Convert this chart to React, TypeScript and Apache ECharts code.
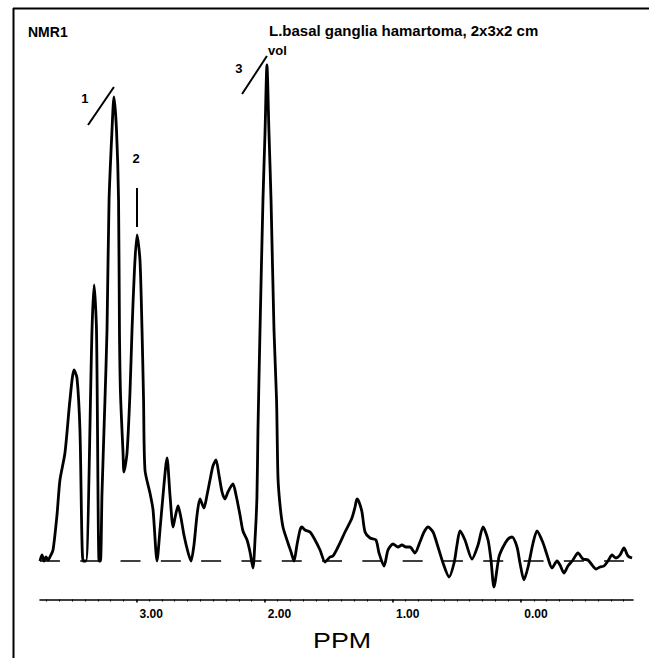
import React, { useEffect, useRef } from "react";
import * as echarts from "echarts";

// Chemical shift (ppm) and signal intensity (arbitrary units, baseline = 0)
const ppmValues = [
  3.751, 3.735, 3.719, 3.704, 3.688, 3.673, 3.649, 3.618, 3.595, 3.556,
  3.517, 3.485, 3.462, 3.439, 3.415, 3.392, 3.345, 3.329, 3.310, 3.290,
  3.279, 3.267, 3.244, 3.228, 3.212, 3.189, 3.174, 3.154, 3.138, 3.131,
  3.123, 3.103, 3.096, 3.072, 3.049, 3.033, 3.014, 2.994, 2.971, 2.955,
  2.943, 2.932, 2.893, 2.869, 2.838, 2.815, 2.791, 2.760, 2.737, 2.713,
  2.698, 2.674, 2.651, 2.628, 2.597, 2.573, 2.550, 2.526, 2.503, 2.472,
  2.448, 2.425, 2.402, 2.378, 2.355, 2.331, 2.308, 2.285, 2.246, 2.222,
  2.191, 2.168, 2.136, 2.113, 2.090, 2.074, 2.059, 2.051, 2.035, 2.012,
  1.996, 1.981, 1.965, 1.949, 1.926, 1.906, 1.895, 1.879, 1.856, 1.817,
  1.793, 1.770, 1.747, 1.723, 1.708, 1.684, 1.645, 1.606, 1.567, 1.528,
  1.489, 1.466, 1.427, 1.372, 1.318, 1.294, 1.279, 1.263, 1.240, 1.216,
  1.177, 1.131, 1.107, 1.068, 1.037, 0.998, 0.959, 0.928, 0.897, 0.866,
  0.827, 0.788, 0.756, 0.725, 0.686, 0.647, 0.608, 0.561, 0.522, 0.499,
  0.476, 0.437, 0.382, 0.335, 0.296, 0.257, 0.234, 0.211, 0.172, 0.140,
  0.101, 0.070, 0.031, 0.008, -0.023, -0.055, -0.094, -0.125, -0.172, -0.203,
  -0.242, -0.281, -0.304, -0.335, -0.366, -0.405, -0.444, -0.483, -0.522, -0.554,
  -0.585, -0.616, -0.647, -0.678, -0.710, -0.741, -0.772, -0.803, -0.834, -0.866,
];

const intensityValues = [
  0, 1.2, 0, 0.8, 0.2, 0.8, 2.2, 9.2, 16.2, 21.6,
  32.2, 38.2, 36.6, 26.2, 0, 0, 46.2, 55.2, 46.2, 0,
  0, 13.6, 32.2, 46.2, 72.2, 86.2, 92.8, 86.2, 72.2, 46.2,
  33.6, 21.6, 17.8, 21.6, 33.6, 46.2, 58.2, 65.2, 60.2, 46.2,
  32.2, 18.2, 13.6, 10.2, 0, 6.2, 13.2, 20.6, 13.2, 6.8,
  8.6, 11.0, 8.6, 5.2, 1.8, 0, 3.2, 9.2, 12.4, 10.6,
  13.2, 16.2, 19.0, 20.2, 17.2, 13.8, 12.4, 13.8, 15.4, 13.2,
  9.2, 6.0, 4.2, 1.8, -1.4, 4.2, 12.8, 26.2, 46.2, 72.2,
  85.6, 99.2, 85.6, 72.2, 46.2, 32.2, 16.8, 11.2, 6.8, 3.6,
  1.8, 0, 3.2, 6.2, 6.8, 6.2, 5.8, 4.2, 2.2, -0.2,
  0.8, 1.0, 2.8, 5.8, 8.6, 10.8, 12.4, 11.8, 9.8, 5.8,
  4.6, 4.2, 1.6, -1.0, 2.2, 3.4, 2.8, 3.2, 2.8, 2.8,
  1.6, 3.8, 5.8, 6.8, 5.8, 2.8, -0.4, -3.2, -0.4, 3.2,
  6.0, 4.2, 0.4, 3.2, 6.8, 4.2, 0.2, -5.2, 0.8, 2.8,
  4.4, 4.8, 2.8, -0.4, -3.8, -1.2, 3.6, 6.0, 3.6, 1.2,
  -1.4, 0, -0.8, -2.4, -1.0, 0.2, 1.6, 0.4, 0.2, -0.8,
  -1.6, -1.2, -1.0, 0, 1.2, 0.6, 1.2, 2.6, 1.0, 0.6,
];

// Axis extent (ppm) and ticks
const X_MIN = -0.8733;
const X_MAX = 3.7505;
const Y_MIN = -7.7;
const Y_MAX = 102.2;
const majorTicks = [0, 1, 2, 3];
const minorTicks = [
  -0.8, -0.7, -0.6, -0.5, -0.4, -0.3, -0.2, -0.1,
  0.1, 0.2, 0.3, 0.4, 0.5, 0.6, 0.7, 0.8, 0.9,
  1.1, 1.2, 1.3, 1.4, 1.5, 1.6, 1.7, 1.8, 1.9,
  2.1, 2.2, 2.3, 2.4, 2.5, 2.6, 2.7, 2.8, 2.9,
  3.1, 3.2, 3.3, 3.4, 3.5, 3.6, 3.7,
];

// Dashed zero baseline (ppm extent, intensity)
const baselinePpm = [3.751, -0.803];
const baselineIntensity = [0, 0];

// Peak annotations: label position and marker line (ppm, intensity)
const peakLabels = ["1", "2", "3"];
const peakLabelPos = [
  [3.4, 92.6],
  [3.002, 80.6],
  [2.199, 98.6],
];
const peakMarkStart = [
  [3.376, 87.2],
  [2.994, 66.8],
  [2.175, 93.4],
];
const peakMarkEnd = [
  [3.174, 94.8],
  [2.994, 74.6],
  [1.981, 101.0],
];

const titleLeft = "NMR1";
const titleMain = "L.basal ganglia hamartoma, 2x3x2 cm";
const titleSub = "vol";
const axisTitle = "PPM";

const FONT = "'Liberation Sans', Arial, Helvetica, sans-serif";

export default function App() {
  const ref = useRef<HTMLDivElement>(null);

  useEffect(() => {
    if (!ref.current) return;
    const chart = echarts.init(ref.current, undefined, { renderer: "svg" });

    const spectrum = ppmValues.map((p, i) => [p, intensityValues[i]]);
    const baseline = baselinePpm.map((p, i) => [p, baselineIntensity[i]]);

    const annotationLines = peakMarkStart.map((s, i) => [
      { coord: s },
      { coord: peakMarkEnd[i] },
    ]);

    const option: any = {
      animation: false,
      backgroundColor: "#fff",
      grid: {
        left: 40,
        right: 16,
        top: 50,
        bottom: 58.5,
        containLabel: false,
        outerBoundsMode: "none",
      },
      xAxis: [
        {
          type: "value",
          position: "bottom",
          gridIndex: 0,
          min: X_MIN,
          max: X_MAX,
          inverse: true,
          axisLine: { show: true, onZero: false, lineStyle: { color: "#000", width: 1.6 } },
          axisTick: {
            show: true,
            customValues: majorTicks,
            length: 3,
            lineStyle: { color: "#000", width: 1.6 },
          },
          axisLabel: {
            show: true,
            customValues: majorTicks,
            formatter: (v: number) => v.toFixed(2),
            color: "#000",
            fontFamily: FONT,
            fontWeight: "bold",
            fontSize: 12,
            margin: 8,
            padding: [0, 0, 0, 30],
          },
          splitLine: { show: false },
        },
        {
          type: "value",
          position: "bottom",
          gridIndex: 0,
          min: X_MIN,
          max: X_MAX,
          inverse: true,
          axisLine: { show: false, onZero: false },
          axisTick: {
            show: true,
            customValues: minorTicks,
            length: 2,
            lineStyle: { color: "#000", width: 1 },
          },
          axisLabel: { show: false },
          splitLine: { show: false },
        },
      ],
      yAxis: {
        type: "value",
        min: Y_MIN,
        max: Y_MAX,
        show: false,
        splitLine: { show: false },
      },
      series: [
        {
          type: "line",
          name: "baseline",
          xAxisIndex: 0,
          data: baseline,
          showSymbol: false,
          symbol: "none",
          silent: true,
          lineStyle: { color: "#000", width: 1.5, type: [20, 20.3] },
          z: 1,
        },
        {
          type: "line",
          name: "spectrum",
          xAxisIndex: 0,
          data: spectrum,
          smooth: 0.25,
          showSymbol: false,
          symbol: "none",
          clip: false,
          lineStyle: { color: "#000", width: 2.8 },
          z: 2,
          markLine: {
            silent: true,
            symbol: "none",
            label: { show: false },
            lineStyle: { type: "solid", width: 2, color: "#000" },
            data: annotationLines,
          },
          markPoint: {
            silent: true,
            symbol: "circle",
            symbolSize: 0,
            itemStyle: { color: "transparent" },
            label: {
              show: true,
              position: "inside",
              color: "#000",
              fontFamily: FONT,
              fontWeight: "bold",
              fontSize: 13,
              formatter: (p: any) => p.name,
            },
            data: peakLabels.map((name, i) => ({ name, coord: peakLabelPos[i] })),
          },
        },
      ],
      graphic: [
        {
          type: "line",
          shape: { x1: 13, y1: 8.5, x2: 649, y2: 8.5 },
          style: { stroke: "#000", lineWidth: 2 },
          silent: true,
        },
        {
          type: "line",
          shape: { x1: 13.5, y1: 8, x2: 13.5, y2: 658 },
          style: { stroke: "#000", lineWidth: 2 },
          silent: true,
        },
        {
          type: "text",
          x: 28,
          y: 32,
          style: {
            text: titleLeft,
            fill: "#000",
            font: `bold 14px ${FONT}`,
            align: "left",
            verticalAlign: "middle",
          },
        },
        {
          type: "text",
          x: 269,
          y: 30,
          style: {
            text: titleMain,
            fill: "#000",
            font: `bold 15px ${FONT}`,
            align: "left",
            verticalAlign: "middle",
          },
        },
        {
          type: "text",
          x: 268,
          y: 50,
          style: {
            text: titleSub,
            fill: "#000",
            font: `bold 13px ${FONT}`,
            align: "left",
            verticalAlign: "middle",
          },
        },
        {
          type: "text",
          x: 313,
          y: 640,
          scaleX: 1.22,
          style: {
            text: axisTitle,
            fill: "#000",
            font: `22px ${FONT}`,
            align: "left",
            verticalAlign: "middle",
          },
        },
      ],
    };

    chart.setOption(option);
    return () => chart.dispose();
  }, []);

  return (
    <div
      ref={ref}
      style={{ position: "absolute", left: 0, top: 0, width: 649, height: 658 }}
    />
  );
}
